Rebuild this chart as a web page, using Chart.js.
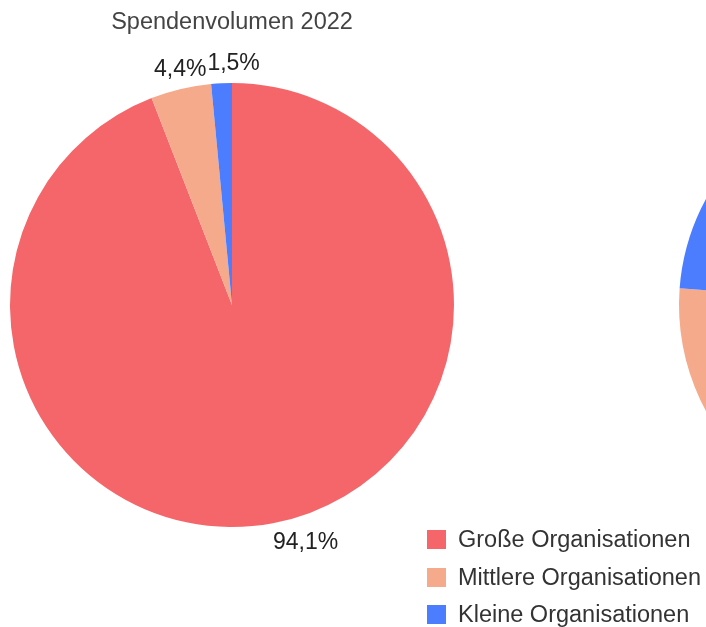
<!DOCTYPE html>
<html>
<head>
<meta charset="utf-8">
<script src="https://cdn.jsdelivr.net/npm/chart.js@4.4.1/dist/chart.umd.min.js"></script>
<style>
  html, body { margin: 0; padding: 0; background: #fff; }
  body { width: 706px; height: 627px; overflow: hidden; position: relative; font-family: "Liberation Sans", Arial, sans-serif; }
  #pie1 { position: absolute; left: 0; top: 0; }
  #pie2 { position: absolute; left: 669px; top: 0; }
  #legend { position: absolute; left: 427px; top: 521px; z-index: 2; }
  #legend .row { display: flex; align-items: center; height: 37.5px; white-space: nowrap; }
  #legend .box { width: 19px; height: 19px; margin-right: 12px; }
  #legend .txt { font-size: 23.5px; color: #333; }
</style>
</head>
<body>
<canvas id="pie1" width="472" height="627"></canvas>
<canvas id="pie2" width="472" height="627"></canvas>
<div id="legend"></div>
<script>
  // Segmente in Reihenfolge im Uhrzeigersinn ab 12 Uhr
  var categories = ['Große Organisationen', 'Mittlere Organisationen', 'Kleine Organisationen'];
  var colors = ['#f4666a', '#f5aa8b', '#4b7dfe'];

  // Spendenvolumen 2022, Anteile in %
  var volumeShares = [94.1, 4.4, 1.5];
  // zweites Diagramm rechts (nur teilweise sichtbar)
  var secondShares = [43.2, 33.0, 23.8];

  // horizontaler Versatz der Beschriftungen gegen Überlappung
  var labelShiftX = [29, 4, 13];

  Chart.defaults.font.family = '"Liberation Sans", Arial, sans-serif';

  function fmt(v) {
      return v.toFixed(1).replace('.', ',') + '%';
  }

  // Prozentwerte außerhalb der Segmente
  var outerLabels = {
      id: 'outerLabels',
      afterDatasetsDraw: function(chart) {
          var ctx = chart.ctx;
          var meta = chart.getDatasetMeta(0);
          var values = chart.data.datasets[0].data;
          ctx.save();
          ctx.font = '23px "Liberation Sans", Arial, sans-serif';
          ctx.fillStyle = '#222';
          ctx.textAlign = 'center';
          ctx.textBaseline = 'middle';
          meta.data.forEach(function(arc, i) {
              var p = arc.getProps(['x', 'y', 'startAngle', 'endAngle', 'outerRadius'], true);
              var mid = (p.startAngle + p.endAngle) / 2;
              var r = p.outerRadius + 20;
              var lx = p.x + Math.cos(mid) * r + (labelShiftX[i] || 0);
              var ly = p.y + Math.sin(mid) * r;
              ctx.fillText(fmt(values[i]), lx, ly);
          });
          ctx.restore();
      }
  };

  function makePie(id, values, title) {
      var showTitle = !!title;
      return new Chart(document.getElementById(id), {
          type: 'pie',
          data: {
              labels: categories,
              datasets: [{
                  data: values,
                  backgroundColor: colors,
                  borderWidth: 0
              }]
          },
          options: {
              responsive: false,
              animation: false,
              devicePixelRatio: 1,
              layout: {
                  // rechts mehr Rand, damit der Titel leicht rechts der Mitte steht
                  padding: { left: 10, right: 18, top: showTitle ? 0 : 83, bottom: 100 }
              },
              plugins: {
                  legend: { display: false },
                  tooltip: { enabled: false },
                  title: {
                      display: showTitle,
                      text: title,
                      color: '#444',
                      font: { size: 23.5, weight: 'normal' },
                      padding: { top: 8, bottom: 46.8 }
                  }
              }
          },
          plugins: [outerLabels]
      });
  }

  makePie('pie1', volumeShares, 'Spendenvolumen 2022');
  makePie('pie2', secondShares, '');

  // Legende unten rechts
  var legend = document.getElementById('legend');
  categories.forEach(function(name, i) {
      var row = document.createElement('div');
      row.className = 'row';
      row.innerHTML = '<span class="box" style="background:' + colors[i] + '"></span>' +
          '<span class="txt">' + name + '</span>';
      legend.appendChild(row);
  });
</script>
</body>
</html>
